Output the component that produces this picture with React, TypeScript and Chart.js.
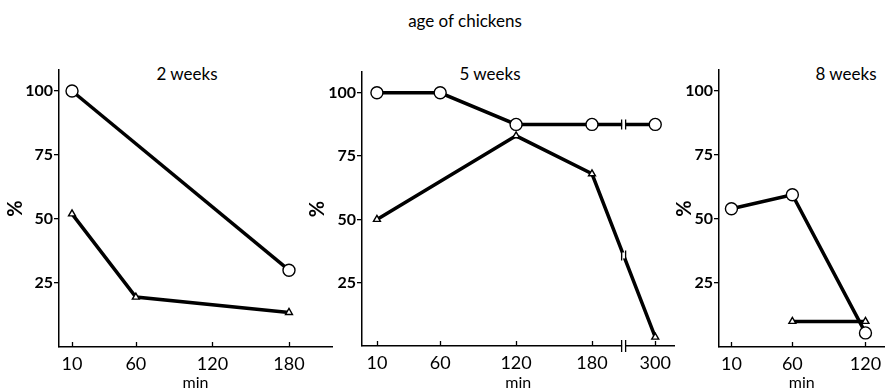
import React, { useEffect, useRef } from "react";
import { Chart, registerables } from "chart.js";
Chart.register(...registerables);

const FONT = "Lato, 'Open Sans', 'DejaVu Sans', sans-serif";

// ---- data ----
const mainTitle = "age of chickens";
const yTickValues = [25, 50, 75, 100];

const w2Title = "2 weeks";
const w2Ticks = [10, 60, 120, 180];
const w2CircleMin = [10, 180];
const w2CirclePct = [100, 30];
const w2TriMin = [10, 60, 180];
const w2TriPct = [52, 19.5, 13.5];

const w5Title = "5 weeks";
const w5Ticks = [10, 60, 120, 180, 300];
const w5CircleMin = [10, 60, 120, 180, 300];
const w5CirclePct = [100, 100, 87.5, 87.5, 87.5];
const w5TriMin = [10, 120, 180, 300];
const w5TriPct = [50, 83, 68, 3.5];

const w8Title = "8 weeks";
const w8Ticks = [10, 60, 120];
const w8CircleMin = [10, 60, 120];
const w8CirclePct = [54, 59.5, 5.5];
const w8TriMin = [60, 120];
const w8TriPct = [10, 10];

// axis break on the 5-week panel: time after 180 min is compressed
const BREAK_FROM = 180;
const BREAK_FACTOR = 50 / 120;
const BREAK_AT = 240; // minutes where the break mark sits
const toAxis = (t: number) => (t <= BREAK_FROM ? t : BREAK_FROM + (t - BREAK_FROM) * BREAK_FACTOR);
const fromAxis = (p: number) => (p <= BREAK_FROM ? p : BREAK_FROM + (p - BREAK_FROM) / BREAK_FACTOR);

type PanelCfg = {
  left: number;
  width: number;
  yWidth: number;
  padTop: number;
  bottom: number;
  padRight: number;
  xMin: number;
  xMax: number;
  ticks: number[];
  circle: { x: number; y: number }[];
  tri: { x: number; y: number }[];
  mapX: (t: number) => number;
  unmapX: (p: number) => number;
  breakAt?: number;
};

const pts = (xs: number[], ys: number[], map: (t: number) => number) =>
  xs.map((x, i) => ({ x: map(x), y: ys[i] }));

const ident = (t: number) => t;

const panels: PanelCfg[] = [
  {
    left: 0, width: 340, yWidth: 59, padTop: 70, bottom: 347, padRight: 8, xMin: -0.2, xMax: 213.7,
    ticks: w2Ticks, circle: pts(w2CircleMin, w2CirclePct, ident), tri: pts(w2TriMin, w2TriPct, ident),
    mapX: ident, unmapX: ident,
  },
  {
    left: 302, width: 380, yWidth: 60, padTop: 72, bottom: 346, padRight: 6, xMin: -1.8, xMax: 245.3,
    ticks: w5Ticks, circle: pts(w5CircleMin, w5CirclePct, toAxis), tri: pts(w5TriMin, w5TriPct, toAxis),
    mapX: toAxis, unmapX: fromAxis, breakAt: BREAK_AT,
  },
  {
    left: 669, width: 223, yWidth: 50, padTop: 70, bottom: 347, padRight: 0, xMin: -0.2, xMax: 135.7,
    ticks: w8Ticks, circle: pts(w8CircleMin, w8CirclePct, ident), tri: pts(w8TriMin, w8TriPct, ident),
    mapX: ident, unmapX: ident,
  },
];

const decorPlugin = (cfg: PanelCfg) => ({
  id: "decor",
  afterDatasetsDraw(chart: any) {
    const ctx = chart.ctx as CanvasRenderingContext2D;
    const xs = chart.scales.x;
    const area = chart.chartArea;
    ctx.save();
    ctx.strokeStyle = "#000";
    ctx.lineWidth = 1.3;
    // inward x tick marks
    cfg.ticks.forEach((t) => {
      const px = Math.round(xs.getPixelForValue(cfg.mapX(t))) + 0.5;
      ctx.beginPath();
      ctx.moveTo(px, area.bottom);
      ctx.lineTo(px, area.bottom - 5);
      ctx.stroke();
    });
    if (cfg.breakAt !== undefined) {
      const bx = xs.getPixelForValue(cfg.mapX(cfg.breakAt));
      const mark = (x: number, y: number, h: number) => {
        ctx.fillStyle = "#fff";
        ctx.fillRect(x - 1.5, y - 3, 3, 6);
        ctx.beginPath();
        ctx.moveTo(x - 2, y - h);
        ctx.lineTo(x - 2, y + h);
        ctx.moveTo(x + 2, y - h);
        ctx.lineTo(x + 2, y + h);
        ctx.stroke();
      };
      mark(bx, area.bottom, 6);
      chart.data.datasets.forEach((_d: any, di: number) => {
        const meta = chart.getDatasetMeta(di);
        const el = meta.data;
        for (let i = 0; i < el.length - 1; i++) {
          const a = el[i], b = el[i + 1];
          if (a.x <= bx && b.x >= bx) {
            const y = a.y + ((bx - a.x) / (b.x - a.x)) * (b.y - a.y);
            mark(bx, y, 5);
          }
        }
      });
    }
    ctx.restore();
  },
});

function Panel({ cfg }: { cfg: PanelCfg }) {
  const ref = useRef<HTMLCanvasElement>(null);
  useEffect(() => {
    if (!ref.current) return;
    const lineDs = {
      borderColor: "#000",
      borderWidth: 3.5,
      pointBackgroundColor: "#fff",
      pointBorderColor: "#000",
      pointBorderWidth: 1.4,
      tension: 0,
    };
    const chart = new Chart(ref.current, {
      type: "line",
      data: {
        datasets: [
          { ...lineDs, data: cfg.circle, pointStyle: "circle", pointRadius: 6 } as any,
          { ...lineDs, data: cfg.tri, pointStyle: "triangle", pointRadius: 4 } as any,
        ],
      },
      options: {
        animation: false,
        responsive: false,
        maintainAspectRatio: false,
        layout: { padding: { top: cfg.padTop, right: cfg.padRight, left: 0, bottom: 0 } },
        plugins: { legend: { display: false }, tooltip: { enabled: false }, title: { display: false } },
        scales: {
          x: {
            type: "linear",
            min: cfg.xMin,
            max: cfg.xMax,
            afterBuildTicks: (s: any) => {
              s.ticks = cfg.ticks.map((t) => ({ value: cfg.mapX(t) }));
            },
            afterFit: (s: any) => {
              s.height = 388 - cfg.bottom;
            },
            grid: { display: false, drawTicks: false },
            border: { color: "#000", width: 1.5 },
            ticks: {
              color: "#000",
              font: { family: FONT, size: 18 },
              padding: 6,
              maxRotation: 0,
              autoSkip: false,
              callback: (v: any) => String(Math.round(cfg.unmapX(Number(v)))),
            },
            title: {
              display: true,
              text: "min",
              color: "#000",
              font: { family: FONT, size: 16, lineHeight: 1 },
              padding: { top: 0, bottom: -3 },
            },
          },
          y: {
            type: "linear",
            min: 0,
            max: 108.2,
            afterBuildTicks: (s: any) => {
              s.ticks = yTickValues.map((v) => ({ value: v }));
            },
            afterFit: (s: any) => {
              s.width = cfg.yWidth;
            },
            grid: { drawOnChartArea: false, drawTicks: true, tickLength: 5, color: "#000", lineWidth: 1.3 },
            border: { color: "#000", width: 1.5 },
            ticks: {
              color: "#000",
              font: { family: FONT, size: 16, weight: "bold" },
              padding: 1,
              autoSkip: false,
              callback: (v: any) => String(v),
            },
            title: {
              display: true,
              text: "%",
              color: "#000",
              font: { family: FONT, size: 20, weight: "bold" },
              padding: { top: 4, bottom: 0 },
            },
          },
        },
      } as any,
      plugins: [decorPlugin(cfg)],
    });
    return () => chart.destroy();
  }, [cfg]);
  return (
    <canvas
      ref={ref}
      width={cfg.width}
      height={388}
      style={{ position: "absolute", left: cfg.left, top: 0, width: cfg.width, height: 388 }}
    />
  );
}

const label = (x: number, y: number, size: number): React.CSSProperties => ({
  position: "absolute",
  left: x,
  top: y,
  transform: "translate(-50%, -50%)",
  fontFamily: FONT,
  fontSize: size,
  color: "#000",
  whiteSpace: "nowrap",
  lineHeight: 1,
});

export default function App() {
  return (
    <div style={{ position: "absolute", left: 0, top: 0, width: 892, height: 388, background: "#fff", overflow: "hidden" }}>
      <div style={label(465, 20, 17)}>{mainTitle}</div>
      <div style={label(187, 73, 17)}>{w2Title}</div>
      <div style={label(490, 73, 17)}>{w5Title}</div>
      <div style={label(846, 73, 17)}>{w8Title}</div>
      {panels.map((p, i) => (
        <Panel key={i} cfg={p} />
      ))}
    </div>
  );
}
